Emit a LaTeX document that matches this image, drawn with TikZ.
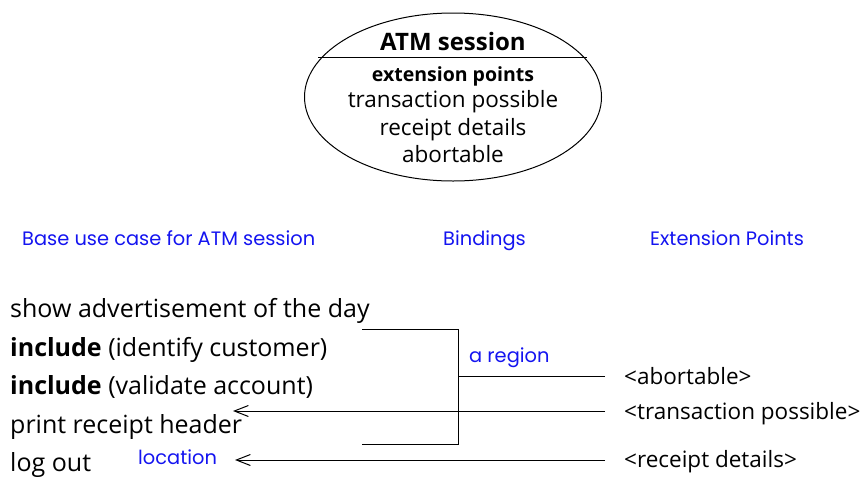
\documentclass[tikz,border=0pt]{standalone}
\usepackage{fontspec}
\setmainfont{Open Sans}
\newfontfamily\bluefont{Poppins}
\usetikzlibrary{arrows.meta,shapes.geometric}
\definecolor{lblue}{RGB}{20,20,240}
\begin{document}
\begin{tikzpicture}[x=1pt,y=-1pt,
  txt/.style={inner sep=0pt,anchor=base west,font=\fontsize{25}{28}\selectfont},
  rlab/.style={inner sep=0pt,anchor=base west,font=\fontsize{22.5}{26}\selectfont},
  blab/.style={inner sep=0pt,anchor=base west,text=lblue,font=\bluefont\fontsize{19.4}{22}\selectfont},
  ctext/.style={inner sep=0pt,anchor=base,font=\fontsize{22.5}{26}\selectfont},
  ln/.style={line width=1pt},
  arr/.style={line width=1pt,-{Straight Barb[length=14pt,width=11pt,line width=1pt]}}]
\useasboundingbox (0,0) rectangle (866,477);
% use case ellipse
\node[draw,line width=1pt,ellipse,minimum width=297pt,minimum height=168pt,inner sep=0pt] (uc) at (453,97) {};
\draw[line width=1pt] (318,57) -- (587,57);
\node[ctext,font=\bfseries\fontsize{24}{28}\selectfont] (t1) at (453,50) {ATM session};
\node[ctext,font=\bfseries\fontsize{19.5}{22}\selectfont] (t2) at (453,81) {extension points};
\node[ctext] (t3) at (453,107) {transaction possible};
\node[ctext] (t4) at (453,135) {receipt details};
\node[ctext] (t5) at (453,162) {abortable};
% headings
\node[blab] (h1) at (22,245) {Base use case for ATM session};
\node[blab] (h2) at (443,245) {Bindings};
\node[blab] (h3) at (650,245) {Extension Points};
% base steps
\node[txt] (s1) at (10,317) {show advertisement of the day};
\node[txt] (s2) at (10,356) {\textbf{include} (identify customer)};
\node[txt] (s3) at (10,394) {\textbf{include} (validate account)};
\node[txt] (s4) at (10,433) {print receipt header};
\node[txt] (s5) at (10,471) {log out};
% extension points
\node[rlab] (e1) at (624,384) {<abortable>};
\node[rlab] (e2) at (624,419) {<transaction possible>};
\node[rlab] (e3) at (624,467) {<receipt details>};
% labels
\node[blab] (reg) at (469,362) {a region};
\node[blab] (loc) at (138,464) {location};
% bracket
\coordinate (bt) at (362,329);
\coordinate (bb) at (362,444);
\coordinate (bj) at (458,376.5);
\coordinate (a1) at (233,411);
\coordinate (a2) at (235,460);
\draw[ln] (bt) -- (bt -| bj) -- (bb -| bj) -- (bb);
\draw[ln] (e1.west |- bj) ++(-19,0) -- (bj);
\draw[arr] (605,411) -- (a1);
\draw[arr] (605,460) -- (a2);
\end{tikzpicture}
\end{document}
